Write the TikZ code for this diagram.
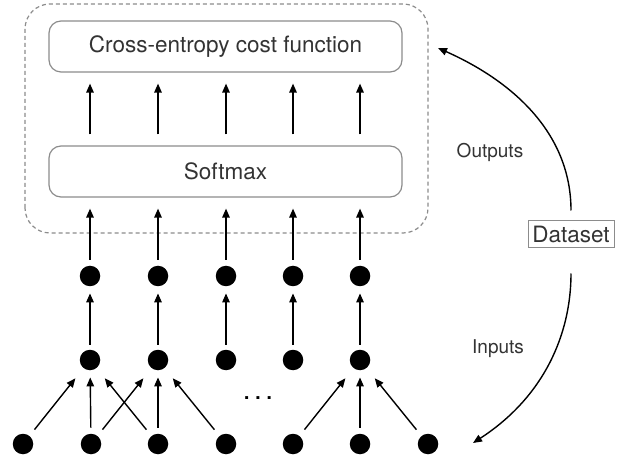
\documentclass[tikz,border=0pt]{standalone}
\usepackage{fontspec}
\setmainfont{TeX Gyre Heros}
\usetikzlibrary{arrows.meta}
\begin{document}
\begin{tikzpicture}[x=1pt,y=1pt,
  dot/.style={circle,fill=black,inner sep=0pt,minimum size=20.5pt},
  arr/.style={line width=1.4pt,-{Triangle[length=9pt,width=7.5pt]}},
  box/.style={draw=black!45,line width=1.2pt,rounded corners=12pt,minimum width=353pt,minimum height=51pt,font=\fontsize{22.5}{26}\selectfont,text=black!80},
  lbl/.style={font=\fontsize{19}{23}\selectfont,text=black!80}]
\useasboundingbox (0,0) rectangle (628,463);
\draw[black!45,line width=1.2pt,dash pattern=on 4pt off 3pt,rounded corners=25pt] (25,230) rectangle (428,459);
\node[box] (ce) at (225.5,416.5) {Cross-entropy cost function};
\node[box] (sm) at (225.5,291.5) {Softmax};
\foreach \i/\x in {1/90,2/158,3/226,4/293,5/360} {
  \node[dot] (h2\i) at (\x,187) {};
  \node[dot] (h1\i) at (\x,103) {};
}
\foreach \i/\x in {0/23,1/91,2/158,3/226,4/293,5/360,6/428}
  \node[dot] (b\i) at (\x,19) {};
\foreach \i in {1,...,5} {
  \draw[arr,shorten <=11pt,shorten >=11pt] (sm.north -| h2\i) -- (ce.south -| h2\i);
  \draw[arr,shorten <=6pt,shorten >=11pt] (h2\i) -- (sm.south -| h2\i);
  \draw[arr,shorten <=5pt,shorten >=7pt] (h1\i) -- (h2\i);
}
\foreach \a/\b in {b1/h11,b2/h12,b5/h15}
  \draw[arr,shorten <=6pt,shorten >=7pt] (\a) -- (\b);
\foreach \a/\b in {b0/h11,b2/h11,b1/h12,b3/h12,b4/h15,b6/h15}
  \draw[arr,shorten <=8pt,shorten >=13pt] (\a) -- (\b);
\node[font=\fontsize{28}{30}\selectfont] (dots) at (258,65) {.\hspace{3.5pt}.\hspace{3.5pt}.};
\node[draw=black!45,line width=1pt,inner sep=2pt,font=\fontsize{22.5}{26}\selectfont,text=black!80,minimum width=86pt,minimum height=27pt] (ds) at (571,228.5) {Dataset};
\node[lbl] (out) at (490,311) {Outputs};
\node[lbl] (in) at (498,114) {Inputs};
\coordinate (upend) at (438,415);
\coordinate (downend) at (473,20);
\draw[arr,shorten <=10pt] (ds.north) to[out=90,in=-24] (upend);
\draw[arr,shorten <=25pt] (ds.south) to[out=-90,in=33] (downend);
\end{tikzpicture}
\end{document}
